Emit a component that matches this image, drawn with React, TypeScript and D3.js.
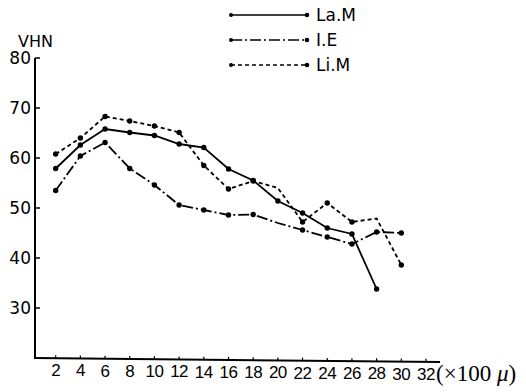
import React from "react";
import * as d3 from "d3";

const xTicks = [2, 4, 6, 8, 10, 12, 14, 16, 18, 20, 22, 24, 26, 28, 30, 32];
const yTicks = [30, 40, 50, 60, 70, 80];

const laX = [2, 4, 6, 8, 10, 12, 14, 16, 18, 20, 22, 24, 26, 28];
const laM = [57.9, 62.6, 65.8, 65.1, 64.5, 62.8, 62.1, 57.8, 55.5, 51.4, 49, 46, 44.8, 33.8];

const ieX = [2, 4, 6, 8, 10, 12, 14, 16, 18, 20, 22, 24, 26, 28, 30];
const iE = [53.5, 60.4, 63.1, 57.9, 54.6, 50.6, 49.6, 48.6, 48.7, 47, 45.6, 44.2, 42.8, 45.2, 45];

const liX = [2, 4, 6, 8, 10, 12, 14, 16, 18, 20, 22, 24, 26, 28, 30];
const liM = [60.8, 64, 68.3, 67.4, 66.4, 65.1, 58.5, 53.8, 55.4, 54, 47.2, 51, 47.2, 47.9, 38.6];

const seriesNames = ["La.M", "I.E", "Li.M"];
const dashes = ["none", "11,3,2,3", "4,3"];

export default function App() {
  const W = 526, H = 392;
  const x = d3.scaleLinear().domain([0, 32]).range([31, 426]);
  const y = d3.scaleLinear().domain([20, 80]).range([358, 58]);
  const line = d3.line<[number, number]>().x(d => x(d[0])).y(d => y(d[1]));

  const series = [
    { xs: laX, ys: laM, dots: laX.map((_, i) => i) },
    { xs: ieX, ys: iE, dots: ieX.map((_, i) => i).filter(i => ieX[i] !== 20) },
    { xs: liX, ys: liM, dots: liX.map((_, i) => i).filter(i => liX[i] !== 20 && liX[i] !== 28) },
  ];

  const legendY = [15, 40, 65];
  const font = "'DejaVu Sans', sans-serif";

  return (
    <svg width={W} height={H} style={{ position: "absolute", left: 0, top: 0, background: "#fff" }}>
      <rect x={0} y={0} width={W} height={H} fill="#fff" />
      <line x1={35} y1={58} x2={35} y2={359} stroke="#000" strokeWidth={2} />
      <line x1={35} y1={358} x2={440} y2={362} stroke="#000" strokeWidth={2} />
      {yTicks.map(t => (
        <g key={t}>
          <line x1={35} x2={40} y1={y(t)} y2={y(t)} stroke="#000" strokeWidth={1.5} />
          <text x={31} y={y(t) + 6} textAnchor="end" fontFamily={font} fontSize={17}>{t}</text>
        </g>
      ))}
      <text x={18} y={47} fontFamily={font} fontSize={16}>VHN</text>
      {xTicks.map(t => {
        const yy = 358 + (x(t) - 35) / 405 * 4;
        return (
          <g key={t}>
            <line x1={x(t)} x2={x(t)} y1={yy} y2={yy - 3} stroke="#000" strokeWidth={1.2} />
            <text x={x(t)} y={yy + 18} textAnchor="middle" fontFamily="'Liberation Sans', sans-serif" fontSize={17} letterSpacing={-0.5}>{t}</text>
          </g>
        );
      })}
      <text x={436} y={381} fontFamily="'Liberation Serif', serif" fontSize={23}>(×100 <tspan fontStyle="italic">μ</tspan>)</text>

      {series.map((s, si) => {
        const pts: [number, number][] = s.xs.map((v, i) => [v, s.ys[i]]);
        return (
          <g key={si}>
            <path d={line(pts) || ""} fill="none" stroke="#000" strokeWidth={1.8} strokeDasharray={dashes[si]} />
            {s.dots.map(i => (
              <circle key={i} cx={x(s.xs[i])} cy={y(s.ys[i])} r={2.7} fill="#000" />
            ))}
          </g>
        );
      })}

      {seriesNames.map((n, i) => (
        <g key={n}>
          <line x1={231} x2={307} y1={legendY[i]} y2={legendY[i]} stroke="#000" strokeWidth={1.7} strokeDasharray={dashes[i]} />
          <circle cx={231} cy={legendY[i]} r={2} fill="#000" />
          <circle cx={307} cy={legendY[i]} r={2.3} fill="#000" />
          <text x={316} y={legendY[i] + 6} fontFamily={font} fontSize={17}>{n}</text>
        </g>
      ))}
    </svg>
  );
}
